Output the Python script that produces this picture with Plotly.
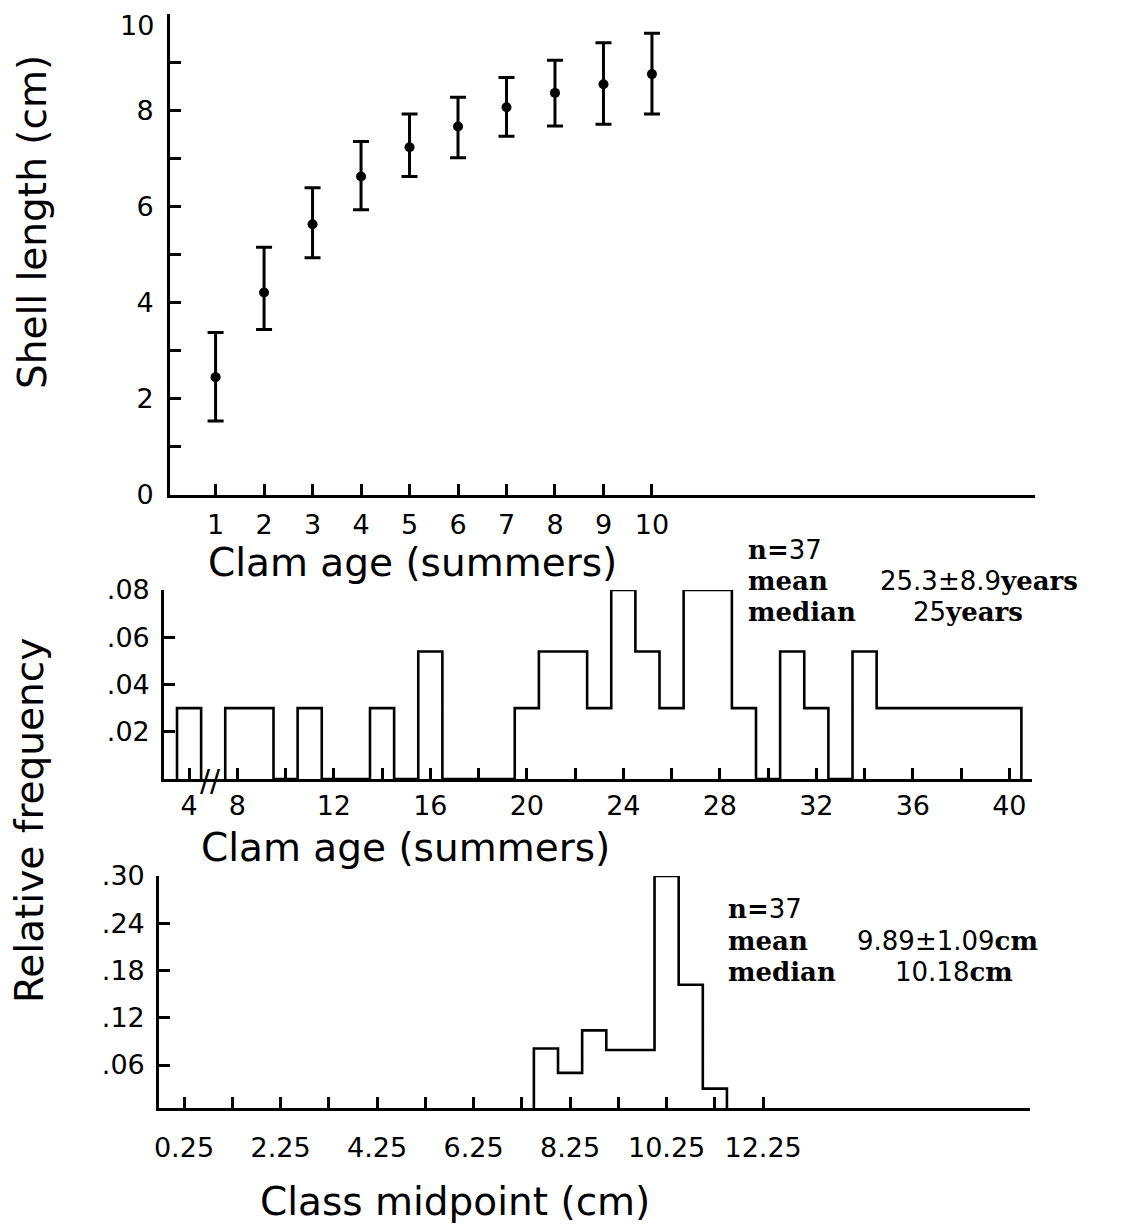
import plotly.graph_objects as go

# ---------------- data ----------------
# Top panel: shell length by clam age
ages = [1, 2, 3, 4, 5, 6, 7, 8, 9, 10]
shell_mean = [2.45, 4.21, 5.63, 6.62, 7.23, 7.66, 8.06, 8.36, 8.54, 8.75]
shell_upper = [3.38, 5.15, 6.39, 7.35, 7.92, 8.27, 8.68, 9.04, 9.40, 9.60]
shell_lower = [1.54, 3.44, 4.93, 5.93, 6.62, 7.01, 7.46, 7.67, 7.71, 7.92]
length_ticks = [0, 1, 2, 3, 4, 5, 6, 7, 8, 9, 10]
length_tick_labels = ["0", "", "2", "", "4", "", "6", "", "8", "", ""]
length_top_label = "10"

# Middle panel: relative frequency of clam age (1-summer classes)
age_classes = [4, 8, 9, 11, 14, 16, 20, 21, 22, 23, 24, 25, 26, 27, 28, 29,
               31, 32, 34, 35, 36, 37, 38, 39, 40]
age_freq = [0.030, 0.030, 0.030, 0.030, 0.030, 0.054, 0.030, 0.054, 0.054, 0.030,
            0.080, 0.054, 0.030, 0.080, 0.080, 0.030, 0.054, 0.030, 0.054, 0.030,
            0.030, 0.030, 0.030, 0.030, 0.030]
age_ticks = [8, 10, 12, 14, 16, 18, 20, 22, 24, 26, 28, 30, 32, 34, 36, 38, 40]
age_tick_labels = ["8", "", "12", "", "16", "", "20", "", "24", "", "28", "", "32", "", "36", "", "40"]
freq_ticks_mid = [0.02, 0.04, 0.06, 0.08]
freq_tick_labels_mid = [".02", ".04", ".06", ".08"]

# Bottom panel: relative frequency of shell length (0.5 cm classes)
size_mid = [7.75, 8.25, 8.75, 9.25, 9.75, 10.25, 10.75, 11.25]
size_freq = [0.081, 0.050, 0.104, 0.079, 0.079, 0.300, 0.162, 0.030]
size_ticks = [0.25, 1.25, 2.25, 3.25, 4.25, 5.25, 6.25, 7.25, 8.25, 9.25, 10.25, 11.25, 12.25]
size_tick_labels = ["0.25", "", "2.25", "", "4.25", "", "6.25", "", "8.25", "", "10.25", "", "12.25"]
freq_ticks_bot = [0.06, 0.12, 0.18, 0.24, 0.30]
freq_tick_labels_bot = [".06", ".12", ".18", ".24", ".30"]

age_n, age_mean_v, age_sd_v, age_median_v = "37", "25.3", "8.9", "25"
size_n, size_mean_v, size_sd_v, size_median_v = "37", "9.89", "1.09", "10.18"

# ---------------- helpers ----------------
OFF = 8                     # page body margin in the browser
W, H = 1147 - OFF, 1228 - OFF
def px(p):
    return (p - OFF) / W
def py(p):
    return 1 - (p - OFF) / H

def step_outline(centers, values, width):
    """Histogram outline (no inner dividers) built from class centres."""
    c0 = min(centers)
    lookup = {int(round((c - c0) / width)): v for c, v in zip(centers, values)}
    n = max(lookup) + 1
    xs, ys = [c0 - width / 2], [0]
    for k in range(n):
        xs.append(c0 + k * width - width / 2)
        ys.append(lookup.get(k, 0))
    xs.append(c0 + (n - 1) * width + width / 2)
    ys.append(0)
    return xs, ys

LINE = 2.6
TICKFONT = dict(family="DejaVu Sans", size=27, color="black")
common_axis = dict(showline=True, linecolor="black", linewidth=LINE, ticks="inside",
                   tickcolor="black", tickwidth=LINE, ticklen=11, showgrid=False,
                   zeroline=False, tickfont=TICKFONT, tickmode="array", automargin=False,
                   ticklabeloverflow="allow")

fig = go.Figure()

# ---------------- top panel ----------------
plus = [u - m for u, m in zip(shell_upper, shell_mean)]
minus = [m - l for m, l in zip(shell_mean, shell_lower)]
fig.add_trace(go.Scatter(
    x=ages, y=shell_mean, mode="markers", xaxis="x", yaxis="y",
    marker=dict(color="black", size=10),
    error_y=dict(type="data", symmetric=False, array=plus, arrayminus=minus,
                 color="black", thickness=3, width=8),
    showlegend=False))

# ---------------- middle panel ----------------
lx, ly = step_outline([a for a in age_classes if a < 6],
                      [f for a, f in zip(age_classes, age_freq) if a < 6], 1)
fig.add_trace(go.Scatter(x=lx, y=ly, mode="lines", line=dict(color="black", width=LINE, shape="hv"),
                         xaxis="x2", yaxis="y2", showlegend=False))
rx, ry = step_outline([a for a in age_classes if a > 6],
                      [f for a, f in zip(age_classes, age_freq) if a > 6], 1)
fig.add_trace(go.Scatter(x=rx, y=ry, mode="lines", line=dict(color="black", width=LINE, shape="hv"),
                         xaxis="x3", yaxis="y2", showlegend=False))

# ---------------- bottom panel ----------------
bx, by = step_outline(size_mid, size_freq, 0.5)
fig.add_trace(go.Scatter(x=bx, y=by, mode="lines", line=dict(color="black", width=LINE, shape="hv"),
                         xaxis="x4", yaxis="y3", showlegend=False))

fig.update_layout(
    width=W, height=H, margin=dict(l=0, r=0, t=0, b=0, autoexpand=False),
    paper_bgcolor="white", plot_bgcolor="white", showlegend=False,
    xaxis=dict(common_axis, domain=[px(170), px(1035)], range=[0.06, 17.9], anchor="y",
               tickvals=ages, ticktext=[str(a) for a in ages], ticklabelstandoff=4),
    yaxis=dict(common_axis, domain=[py(495), py(14)], range=[0, 10], anchor="x",
               tickvals=length_ticks, ticktext=length_tick_labels, ticklabelstandoff=8),
    xaxis2=dict(common_axis, domain=[px(164), px(210)], range=[2.96, 4.868], anchor="y2",
                tickvals=[4], ticktext=["4"], ticklabelstandoff=1),
    xaxis3=dict(common_axis, domain=[px(210), px(1032)], range=[6.868, 40.94], anchor="y2",
                tickvals=age_ticks, ticktext=age_tick_labels, ticklabelstandoff=1),
    yaxis2=dict(common_axis, domain=[py(779), py(590)], range=[0, 0.08], anchor="x2",
                tickvals=freq_ticks_mid, ticktext=freq_tick_labels_mid, ticklabelstandoff=6),
    xaxis4=dict(common_axis, domain=[px(159), px(1030)], range=[-0.268, 17.78], anchor="y3",
                tickvals=size_ticks, ticktext=size_tick_labels, ticklabelstandoff=14),
    yaxis3=dict(common_axis, domain=[py(1108), py(876)], range=[0.0054, 0.30], anchor="x4",
                tickvals=freq_ticks_bot, ticktext=freq_tick_labels_bot, ticklabelstandoff=6),
)

TITLEFONT = dict(family="DejaVu Sans", size=39, color="black")
def title(x, y, text, angle=0):
    return dict(xref="paper", yref="paper", x=px(x), y=py(y), text=text, showarrow=False,
                xanchor="center", yanchor="middle", textangle=angle, font=TITLEFONT)

def num(s):
    return '<span style="font-family:DejaVu Sans;font-weight:normal">' + s + "</span>"

def stat(x, y, text):
    return dict(xref="paper", yref="paper", x=px(x), y=py(y), text=text, showarrow=False,
                xanchor="left", yanchor="middle",
                font=dict(family="DejaVu Serif", size=26, color="black"))

annotations = [
    # top tick label of the shell-length axis (kept inside the page)
    dict(xref="paper", yref="paper", x=px(156), y=1, text=length_top_label, showarrow=False,
         xanchor="right", yanchor="top", font=TICKFONT),
    title(412, 562, "Clam age (summers)"),
    title(405, 847, "Clam age (summers)"),
    title(455, 1201, "Class midpoint (cm)"),
    title(32, 222, "Shell length (cm)", -90),
    title(29, 821, "Relative frequency", -90),
    # axis break marker
    dict(xref="paper", yref="paper", x=px(210), y=py(780), text="//", showarrow=False,
         xanchor="center", yanchor="middle", font=dict(family="DejaVu Sans", size=30, color="black")),
    # middle stats
    stat(746, 550, "<b>n=</b>" + num(age_n)),
    stat(746, 581, "<b>mean</b>"),
    stat(878, 581, num(age_mean_v + "±" + age_sd_v) + "<b>years</b>"),
    stat(746, 612, "<b>median</b>"),
    stat(911, 612, num(age_median_v) + "<b>years</b>"),
    # bottom stats
    stat(726, 909, "<b>n=</b>" + num(size_n)),
    stat(726, 941, "<b>mean</b>"),
    stat(855, 941, num(size_mean_v + "±" + size_sd_v) + "<b>cm</b>"),
    stat(726, 972, "<b>median</b>"),
    stat(893, 972, num(size_median_v) + "<b>cm</b>"),
]
fig.update_layout(annotations=annotations)

fig.write_html("out.html")
